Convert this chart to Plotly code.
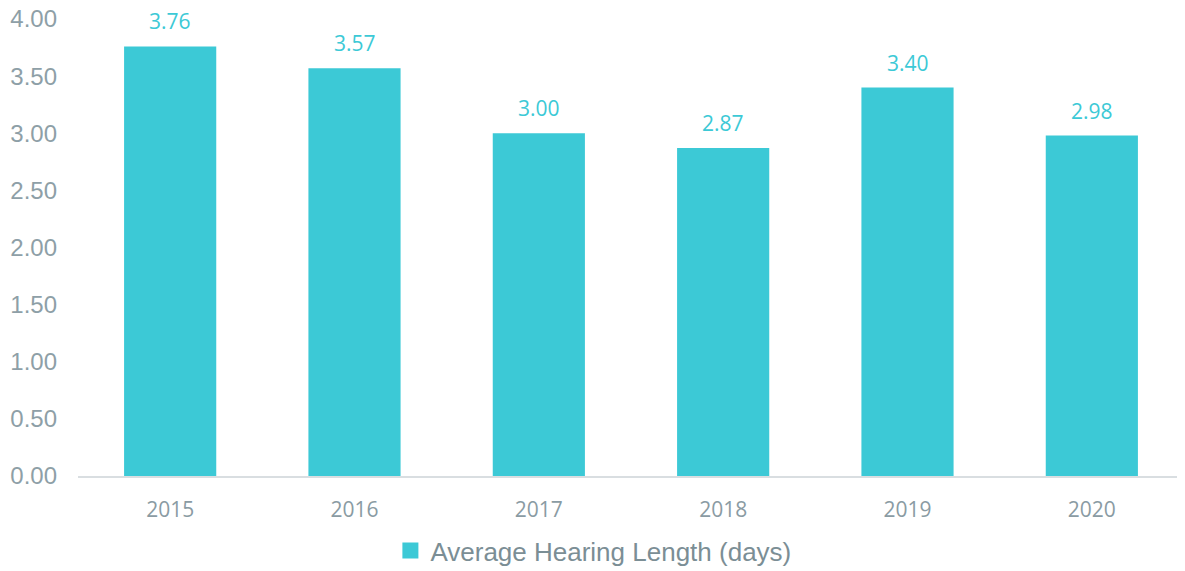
import plotly.graph_objects as go

years = ['2015', '2016', '2017', '2018', '2019', '2020']
avg_length = [3.76, 3.57, 3.00, 2.87, 3.40, 2.98]
y_ticks = [0, 0.5, 1.0, 1.5, 2.0, 2.5, 3.0, 3.5, 4.0]

bar_color = '#3CC9D6'
series_name = 'Average Hearing Length (days)'

fig = go.Figure()
fig.add_trace(go.Bar(
    x=years, y=avg_length,
    name=series_name,
    marker=dict(color=bar_color, line=dict(width=0)),
    width=0.5,
    showlegend=False,
))
# legend-only entry so the swatch can be a bigger square
fig.add_trace(go.Scatter(
    x=[None], y=[None], mode='markers', name=series_name,
    marker=dict(symbol='square', size=25, color=bar_color),
))

# value labels above bars (x as category index, numeric-looking names get cast otherwise)
for i, v in enumerate(avg_length):
    fig.add_annotation(
        x=i, y=v, text=f'{v:.2f}', showarrow=False,
        yshift=25, font=dict(family='Open Sans', size=21, color=bar_color)
    )

fig.update_xaxes(
    type='category',
    showgrid=False,
    showline=True, linecolor='#D9DEE1', linewidth=2,
    tickfont=dict(family='Open Sans', size=21, color='#8A9BA3'),
    ticks='', ticklabelstandoff=14,
)
fig.update_yaxes(
    range=[0, 4],
    tickvals=y_ticks,
    tickformat='.2f',
    showgrid=False, zeroline=False,
    tickfont=dict(family='Liberation Sans', size=24, color='#8E9FA7'),
    ticklabelstandoff=20,
    ticklabeloverflow='allow',
)
fig.update_layout(
    width=1177, height=563,
    margin=dict(l=70, r=1, t=11, b=95, autoexpand=False),
    plot_bgcolor='white',
    paper_bgcolor='white',
    showlegend=True,
    legend=dict(
        orientation='h', x=0.466, xanchor='center',
        y=-0.112, yanchor='top',
        itemsizing='trace',
        font=dict(family='Liberation Sans', size=26, color='#7B8E95'),
    ),
)

fig.write_html('out.html')
